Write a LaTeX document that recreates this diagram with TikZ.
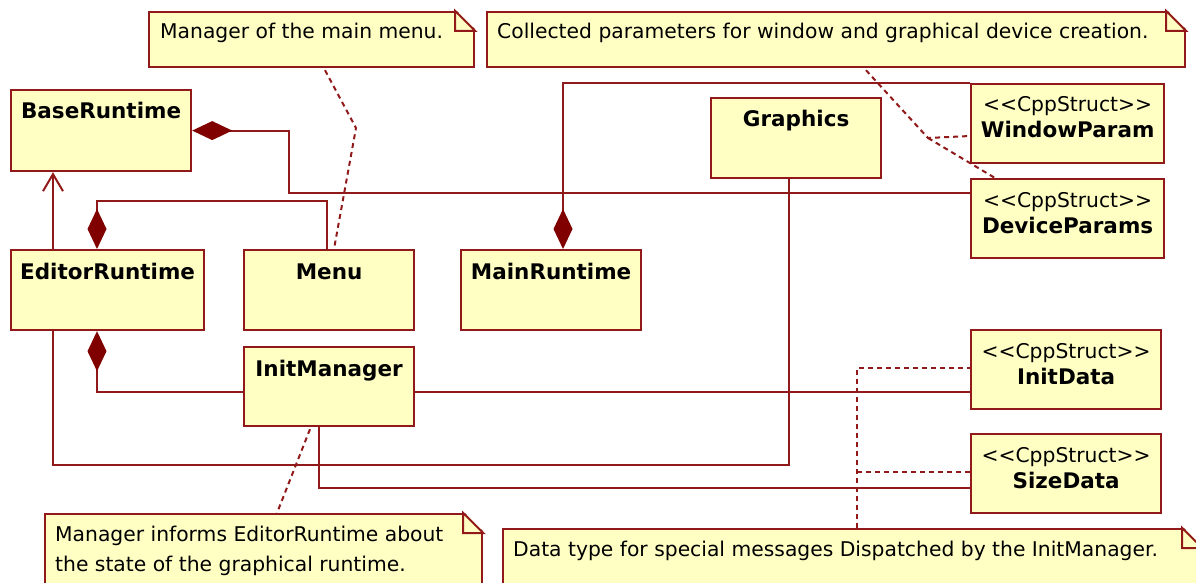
\documentclass[tikz,border=0pt]{standalone}
\usepackage{fontspec}
\setmainfont{DejaVu Sans}
\usetikzlibrary{arrows.meta,calc,positioning}

\definecolor{umlline}{RGB}{145,25,25}
\definecolor{umldark}{RGB}{128,0,0}
\definecolor{umlfill}{RGB}{255,255,196}

\newcommand\umlfont{\fontsize{20.3}{30}\selectfont}
\newcommand\umlbold{\fontsize{21.5}{30}\selectfont\bfseries}
\newcommand\stereo[1]{<\kern0pt<#1>\kern0pt>}
% folded corner of a note
\newcommand\notecorner[1]{%
  \fill[white] ($(#1.north east)+(-20,-2)$) -- ($(#1.north east)+(2,-2)$) -- ($(#1.north east)+(2,20)$) -- cycle;
  \draw[link,fill=umlfill,line join=miter] ($(#1.north east)+(-20,0)$) -- ($(#1.north east)+(0,20)$) -- ++(-20,0) -- cycle;
}

\tikzset{
  classbox/.style={draw=umlline, fill=umlfill, line width=2.2pt, anchor=north west, inner sep=0pt},
  notebox/.style={draw=umlline, fill=umlfill, line width=2.2pt, anchor=north west, inner sep=0pt},
  clsname/.style={anchor=base, yshift=-30pt, inner sep=0pt, font=\umlbold},
  sttxt/.style={anchor=base, yshift=-29pt, inner sep=0pt, font=\umlfont},
  stname/.style={anchor=base, yshift=-55pt, inner sep=0pt, font=\umlbold},
  notetxt/.style={anchor=base west, xshift=12pt, yshift=-28pt, inner sep=0pt, font=\umlfont},
  link/.style={draw=umlline, line width=2pt},
  comp/.style={link, -{Diamond[length=40pt, width=19pt, color=umldark]}},
  gen/.style={link, -{Straight Barb[length=17pt, width=20pt]}},
  notelink/.style={draw=umlline, line width=2pt, dash pattern=on 5pt off 4pt},
}

\begin{document}
\begin{tikzpicture}[x=1pt, y=-1pt]
\useasboundingbox (0,0) rectangle (1196,583);

% classes
\node[classbox, minimum width=180, minimum height=81, label={[clsname]north:BaseRuntime}] (base) at (10,89) {};
\node[classbox, minimum width=170, minimum height=80, label={[clsname]north:Graphics}] (gfx) at (710,97) {};
\node[classbox, minimum width=193, minimum height=79, label={[sttxt]north:\stereo{CppStruct}}, label={[stname]north:WindowParam}] (winp) at (970,83) {};
\node[classbox, minimum width=193, minimum height=79, label={[sttxt]north:\stereo{CppStruct}}, label={[stname]north:DeviceParams}] (devp) at (970,178) {};
\node[classbox, minimum width=193, minimum height=80, label={[clsname]north:EditorRuntime}] (edit) at (10,249) {};
\node[classbox, minimum width=170, minimum height=80, label={[clsname]north:Menu}] (menu) at (243,249) {};
\node[classbox, minimum width=180, minimum height=80, label={[clsname]north:MainRuntime}] (main) at (460,249) {};
\node[classbox, minimum width=170, minimum height=79, label={[clsname]north:InitManager}] (initm) at (243,346) {};
\node[classbox, minimum width=190, minimum height=79, label={[sttxt]north:\stereo{CppStruct}}, label={[stname]north:InitData}] (initd) at (970,329) {};
\node[classbox, minimum width=190, minimum height=79, label={[sttxt]north:\stereo{CppStruct}}, label={[stname]north:SizeData}] (sized) at (970,433) {};

% notes
\node[notebox, minimum width=325, minimum height=55, label={[notetxt]north west:Manager of the main menu.}] (menunote) at (148,11) {};
\notecorner{menunote}
\node[notebox, minimum width=698, minimum height=55, label={[notetxt, xshift=-1pt]north west:Collected parameters for window and graphical device creation.}] (paramnote) at (486,11) {};
\notecorner{paramnote}
\node[notebox, minimum width=437, minimum height=90, label={[notetxt, anchor=north west, yshift=15pt, xshift=-1pt, align=left]north west:Manager informs EditorRuntime about\\the state of the graphical runtime.}] (initnote) at (44,513) {};
\notecorner{initnote}
\node[notebox, minimum width=698, minimum height=70, label={[notetxt, xshift=-1pt]north west:Data type for special messages Dispatched by the InitManager.}] (datanote) at (502,528) {};
\notecorner{datanote}

% associations
\draw[comp] ($(devp.north west)+(0,15)$) -| ($(base.east)+(97,0)$) -- (base.east);
\draw[gen] ($(edit.north west)+(43,0)$) -- ($(base.south west)+(43,0)$);
\draw[comp] ($(menu.north west)+(84,0)$) -- ++(0,-48) -| ($(edit.north west)+(87,0)$);
\draw[comp] (winp.north west) -| ($(main.north west)+(103,0)$);
\draw[link] ($(gfx.south west)+(79,0)$) |- ($(edit.south west)+(43,134)$) -- ($(edit.south west)+(43,0)$);
\draw[comp] ($(initm.north west)+(0,46)$) -| ($(edit.south west)+(87,0)$);
\draw[link] ($(initm.north east)+(0,46)$) -- ($(initd.north west)+(0,63)$);
\draw[link] ($(initm.south west)+(76,0)$) |- ($(sized.north west)+(0,55)$);

% note links
\draw[notelink] ($(menunote.south west)+(177,2)$) -- (356,128) -- ($(menu.north west)+(91,0)$);
\coordinate (pj) at (928,138);
\draw[notelink] ($(paramnote.south west)+(380,2)$) -- (pj) -- ($(winp.north west)+(0,53)$);
\draw[notelink] (pj) -- ($(devp.north west)+(25,0)$);
\draw[notelink] ($(initm.south west)+(67,2)$) -- ($(initnote.north west)+(233,0)$);
\draw[notelink] ($(datanote.north west)+(355,0)$) |- ($(initd.north west)+(0,39)$);
\draw[notelink] ($(datanote.north west)+(355,-56)$) -- ($(sized.north west)+(0,39)$);
\end{tikzpicture}
\end{document}
